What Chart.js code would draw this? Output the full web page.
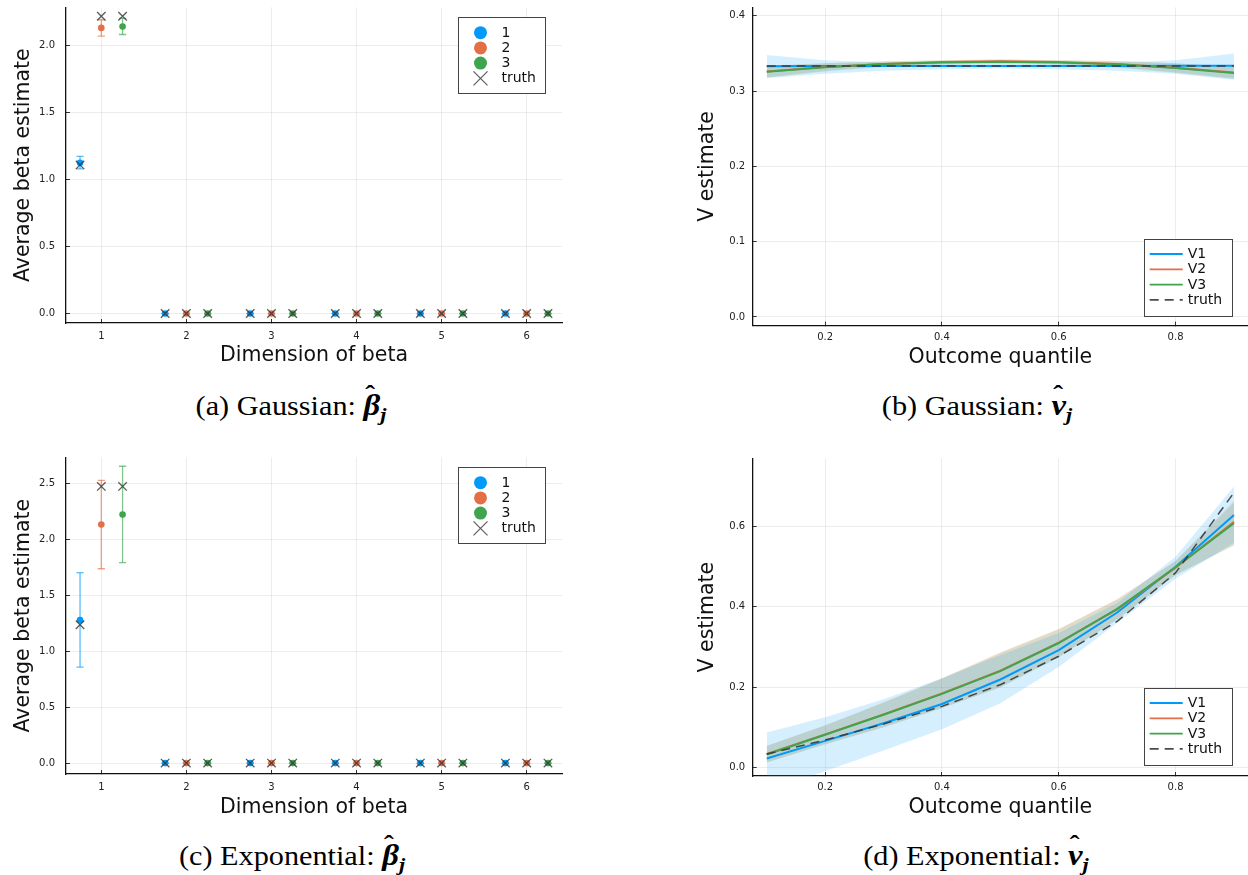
<!DOCTYPE html>
<html>
<head>
<meta charset="utf-8">
<title>Beta and V estimates</title>
<script src="https://cdn.jsdelivr.net/npm/chart.js@4.4.1/dist/chart.umd.min.js"></script>
<style>
  body { margin: 0; background: #fff; width: 1248px; height: 875px; position: relative; overflow: hidden; }
  canvas { position: absolute; }
  .cap { position: absolute; transform: translateX(-50%) scaleX(1.12); white-space: nowrap;
         font-family: "Liberation Serif", "Times New Roman", serif; font-size: 27px; line-height: 30px; color: #000; }
  .m { font-weight: bold; font-style: italic; font-size: 1.08em; }
  .hat { position: relative; display: inline-block; }
  .acc { position: absolute; left: 0.06em; top: -0.4em; font-style: normal; font-weight: bold; font-size: 0.9em; }
  .m sub { font-size: 0.68em; vertical-align: -0.3em; line-height: 0; }
</style>
</head>
<body>
<canvas id="chartA" width="580" height="372" style="left:0;top:0"></canvas>
<canvas id="chartB" width="568" height="372" style="left:680px;top:0"></canvas>
<canvas id="chartC" width="580" height="372" style="left:0;top:450px"></canvas>
<canvas id="chartD" width="568" height="372" style="left:680px;top:450px"></canvas>

<div class="cap" style="left:291px;top:390px">(a) Gaussian: <span class="m"><span class="hat">β<span class="acc">ˆ</span></span><sub>j</sub></span></div>
<div class="cap" style="left:977px;top:390px">(b) Gaussian: <span class="m"><span class="hat">v<span class="acc">ˆ</span></span><sub>j</sub></span></div>
<div class="cap" style="left:292px;top:840px">(c) Exponential: <span class="m"><span class="hat">β<span class="acc">ˆ</span></span><sub>j</sub></span></div>
<div class="cap" style="left:976px;top:840px">(d) Exponential: <span class="m"><span class="hat">v<span class="acc">ˆ</span></span><sub>j</sub></span></div>

<script>
// ---- data ----
const dims = [1, 2, 3, 4, 5, 6];
const offsets = [-0.25, 0, 0.25];
const betaTicksA = [0, 0.5, 1.0, 1.5, 2.0];
const betaTicksC = [0, 0.5, 1.0, 1.5, 2.0, 2.5];

// (a) Gaussian beta estimates, error bars and truth per series
const gaussEst1 = [1.126, 0, 0, 0, 0, 0];
const gaussEst2 = [2.133, 0, 0, 0, 0, 0];
const gaussEst3 = [2.144, 0, 0, 0, 0, 0];
const gaussLo1 = [1.080, 0, 0, 0, 0, 0];
const gaussHi1 = [1.173, 0, 0, 0, 0, 0];
const gaussLo2 = [2.072, 0, 0, 0, 0, 0];
const gaussHi2 = [2.194, 0, 0, 0, 0, 0];
const gaussLo3 = [2.084, 0, 0, 0, 0, 0];
const gaussHi3 = [2.204, 0, 0, 0, 0, 0];
const gaussTruth1 = [1.11, 0, 0, 0, 0, 0];
const gaussTruth2 = [2.22, 0, 0, 0, 0, 0];
const gaussTruth3 = [2.22, 0, 0, 0, 0, 0];

// (c) Exponential beta
const expEst1 = [1.277, 0, 0, 0, 0, 0];
const expEst2 = [2.130, 0, 0, 0, 0, 0];
const expEst3 = [2.219, 0, 0, 0, 0, 0];
const expLo1 = [0.857, 0, 0, 0, 0, 0];
const expHi1 = [1.700, 0, 0, 0, 0, 0];
const expLo2 = [1.735, 0, 0, 0, 0, 0];
const expHi2 = [2.524, 0, 0, 0, 0, 0];
const expLo3 = [1.790, 0, 0, 0, 0, 0];
const expHi3 = [2.650, 0, 0, 0, 0, 0];
const expTruth1 = [1.235, 0, 0, 0, 0, 0];
const expTruth2 = [2.47, 0, 0, 0, 0, 0];
const expTruth3 = [2.47, 0, 0, 0, 0, 0];

// (b) / (d) V estimates over outcome quantiles
const quantiles = [0.1, 0.2, 0.3, 0.4, 0.5, 0.6, 0.7, 0.8, 0.9];
const qTicks = [0.2, 0.4, 0.6, 0.8];
const vTicksB = [0, 0.1, 0.2, 0.3, 0.4];
const vTicksD = [0, 0.2, 0.4, 0.6];

const gaussV1 = [0.3330, 0.3332, 0.3333, 0.3333, 0.3333, 0.3333, 0.3334, 0.3335, 0.3337];
const gaussV1Lo = [0.317, 0.323, 0.327, 0.329, 0.330, 0.329, 0.327, 0.323, 0.315];
const gaussV1Hi = [0.348, 0.341, 0.338, 0.337, 0.337, 0.337, 0.338, 0.341, 0.350];
const gaussV2 = [0.326, 0.332, 0.336, 0.3385, 0.3395, 0.3385, 0.336, 0.331, 0.3245];
const gaussV2Lo = [0.318, 0.327, 0.333, 0.336, 0.337, 0.336, 0.332, 0.325, 0.317];
const gaussV2Hi = [0.334, 0.337, 0.339, 0.341, 0.342, 0.341, 0.340, 0.337, 0.332];
const gaussV3 = [0.3255, 0.3315, 0.336, 0.338, 0.339, 0.338, 0.3355, 0.3305, 0.324];
const gaussV3Lo = [0.318, 0.326, 0.332, 0.335, 0.336, 0.335, 0.331, 0.324, 0.316];
const gaussV3Hi = [0.333, 0.337, 0.340, 0.341, 0.342, 0.341, 0.340, 0.337, 0.332];
const gaussVTruth = [0.3333, 0.3333, 0.3333, 0.3333, 0.3333, 0.3333, 0.3333, 0.3333, 0.3333];

const expV1 = [0.022, 0.066, 0.110, 0.158, 0.219, 0.292, 0.386, 0.500, 0.629];
const expV1Lo = [-0.060, -0.010, 0.042, 0.095, 0.160, 0.250, 0.360, 0.470, 0.560];
const expV1Hi = [0.087, 0.125, 0.170, 0.222, 0.280, 0.335, 0.410, 0.525, 0.700];
const expV2 = [0.033, 0.082, 0.132, 0.184, 0.241, 0.311, 0.394, 0.498, 0.612];
const expV2Lo = [0.012, 0.058, 0.100, 0.148, 0.200, 0.275, 0.370, 0.480, 0.555];
const expV2Hi = [0.054, 0.105, 0.162, 0.222, 0.287, 0.345, 0.420, 0.515, 0.665];
const expV3 = [0.032, 0.081, 0.131, 0.183, 0.240, 0.310, 0.395, 0.499, 0.609];
const expV3Lo = [0.012, 0.057, 0.100, 0.147, 0.199, 0.274, 0.368, 0.479, 0.553];
const expV3Hi = [0.053, 0.104, 0.161, 0.221, 0.285, 0.344, 0.418, 0.514, 0.660];
const expVTruth = [0.033, 0.068, 0.108, 0.152, 0.206, 0.277, 0.364, 0.485, 0.685];

// ---- styling ----
const BLUE = '#009AFA', ORANGE = '#E36F47', GREEN = '#3EA44E', TRUTH = 'rgba(55,55,55,0.9)';
const FONT = 'DejaVu Sans';

function alpha(hex, a) {
  const n = parseInt(hex.slice(1), 16);
  return `rgba(${n >> 16},${(n >> 8) & 255},${n & 255},${a})`;
}

// legend drawn inside the plot area with a frame, like the Plots.jl default
const legendBox = {
  id: 'legendBox',
  afterDraw(chart, args, o) {
    const ctx = chart.ctx, a = chart.chartArea;
    const bx = Math.round(a.right - o.right - o.width);
    const by = Math.round(o.top != null ? a.top + o.top : a.bottom - o.bottom - o.height);
    const items = chart.data.datasets.filter(d => d.legendType);
    ctx.save();
    ctx.fillStyle = '#fff';
    ctx.fillRect(bx, by, o.width, o.height);
    ctx.strokeStyle = '#444';
    ctx.lineWidth = 1;
    ctx.strokeRect(bx + 0.5, by + 0.5, o.width, o.height);
    ctx.font = `14px "${FONT}"`;
    ctx.textBaseline = 'middle';
    items.forEach((d, i) => {
      const cy = by + o.rowTop + i * o.rowGap;
      if (d.legendType === 'dot') {
        ctx.beginPath();
        ctx.arc(bx + o.symX, cy, 6.5, 0, Math.PI * 2);
        ctx.fillStyle = d.pointBackgroundColor;
        ctx.fill();
      } else if (d.legendType === 'cross') {
        const r = 7;
        ctx.beginPath();
        ctx.moveTo(bx + o.symX - r, cy - r); ctx.lineTo(bx + o.symX + r, cy + r);
        ctx.moveTo(bx + o.symX - r, cy + r); ctx.lineTo(bx + o.symX + r, cy - r);
        ctx.strokeStyle = d.pointBorderColor;
        ctx.lineWidth = 1.2;
        ctx.stroke();
      } else {
        ctx.beginPath();
        ctx.setLineDash(d.borderDash || []);
        ctx.moveTo(bx + o.lineX0, cy); ctx.lineTo(bx + o.lineX1, cy);
        ctx.strokeStyle = d.borderColor;
        ctx.lineWidth = 1.8;
        ctx.stroke();
        ctx.setLineDash([]);
      }
      ctx.fillStyle = '#111';
      ctx.fillText(d.label, bx + o.textX, cy + 0.5);
    });
    ctx.restore();
  }
};

function axis(o) {
  return {
    type: 'linear',
    position: o.position,
    min: o.min,
    max: o.max,
    border: { display: true, color: '#111', width: 1.3 },
    grid: { color: 'rgba(0,0,0,0.07)', lineWidth: 1, tickColor: '#333', tickLength: -4, tickWidth: 1 },
    ticks: {
      font: { family: FONT, size: 10 },
      color: '#222',
      padding: o.tickPad,
      callback: o.fmt
    },
    title: {
      display: true,
      text: o.title,
      color: '#111',
      font: { family: FONT, size: 20.5 },
      padding: o.titlePad
    },
    afterBuildTicks: s => { s.ticks = o.tickVals.map(v => ({ value: v })); },
    afterFit: s => {
      // fixed box sizes, no extra room for overhanging tick labels
      if (o.position === 'bottom') s.height = o.size; else s.width = o.size;
      s.paddingTop = 0; s.paddingBottom = 0; s.paddingLeft = 0; s.paddingRight = 0;
    }
  };
}

function seriesPoints(s, values) {
  return dims.map((d, i) => ({ x: d + offsets[s], y: values[i] }));
}

function errorPoints(s, lo, hi) {
  const pts = [];
  dims.forEach((d, i) => {
    const x = d + offsets[s];
    pts.push({ x, y: lo[i] }, { x, y: hi[i] }, { x, y: null });
  });
  return pts;
}

function betaChart(id, est, lo, hi, truth, g) {
  const colors = [BLUE, ORANGE, GREEN];
  const datasets = [];
  // error bars
  colors.forEach((c, s) => {
    datasets.push({
      label: 'err' + (s + 1),
      data: errorPoints(s, lo[s], hi[s]),
      showLine: true,
      spanGaps: false,
      borderColor: alpha(c, 0.65),
      borderWidth: 1.3,
      pointStyle: 'line',
      pointRadius: 3.6,
      pointBorderColor: alpha(c, 0.65),
      pointBorderWidth: 1.3,
      order: 3
    });
  });
  // estimates
  colors.forEach((c, s) => {
    datasets.push({
      label: String(s + 1),
      legendType: 'dot',
      data: seriesPoints(s, est[s]),
      pointStyle: 'circle',
      pointRadius: 3.3,
      pointBackgroundColor: c,
      pointBorderWidth: 0,
      order: 2
    });
  });
  // truth crosses
  const truthPts = [].concat(...truth.map((t, s) => seriesPoints(s, t)));
  datasets.push({
    label: 'truth',
    legendType: 'cross',
    data: truthPts,
    pointStyle: 'crossRot',
    pointRadius: 6,
    pointBorderColor: 'rgba(50,50,50,0.8)',
    pointBorderWidth: 1.3,
    order: 1
  });

  return new Chart(document.getElementById(id), {
    type: 'scatter',
    data: { datasets },
    options: {
      responsive: false,
      animation: false,
      layout: { padding: { top: g.top, right: 18, left: 0, bottom: 0 } },
      scales: {
        x: axis({ position: 'bottom', min: 0.585, max: 6.415, tickVals: dims, fmt: v => String(v),
                  tickPad: 11, title: 'Dimension of beta', titlePad: { top: 0, bottom: g.xTitlePad }, size: g.xSize }),
        y: axis({ position: 'left', min: g.yMin, max: g.yMax, tickVals: g.yTicks, fmt: v => v.toFixed(1),
                  tickPad: 15, title: 'Average beta estimate', titlePad: { top: 11, bottom: 0 }, size: 66 })
      },
      plugins: {
        legend: { display: false },
        tooltip: { enabled: false },
        legendBox: { width: 87, height: 76, right: 17, top: 10, rowTop: 15.7, rowGap: 15.2, symX: 22.5, textX: 43.5 }
      }
    },
    plugins: [legendBox]
  });
}

function vChart(id, lines, bands, truth, g) {
  const colors = [BLUE, ORANGE, GREEN];
  const pts = vals => quantiles.map((q, i) => ({ x: q, y: vals[i] }));
  const datasets = [];
  // bands: lower then upper filled to lower
  bands.forEach(([lo, hi], s) => {
    const lowerIndex = datasets.length;
    datasets.push({ label: 'lo' + s, data: pts(lo), showLine: true, borderWidth: 0, pointRadius: 0, fill: false, order: 10 });
    datasets.push({ label: 'hi' + s, data: pts(hi), showLine: true, borderWidth: 0, pointRadius: 0,
                    fill: lowerIndex, backgroundColor: alpha(colors[s], s === 0 ? 0.16 : 0.17), order: 10 });
  });
  lines.forEach((vals, s) => {
    datasets.push({
      label: 'V' + (s + 1),
      legendType: 'line',
      data: pts(vals),
      showLine: true,
      borderColor: colors[s],
      borderWidth: 2,
      pointRadius: 0,
      fill: false,
      order: 4 - s
    });
  });
  datasets.push({
    label: 'truth',
    legendType: 'line',
    data: pts(truth),
    showLine: true,
    borderColor: TRUTH,
    borderWidth: 1.5,
    borderDash: [9, 6],
    pointRadius: 0,
    fill: false,
    order: 0
  });

  return new Chart(document.getElementById(id), {
    type: 'scatter',
    data: { datasets },
    options: {
      responsive: false,
      animation: false,
      layout: { padding: { top: g.top, right: 0, left: 0, bottom: 0 } },
      scales: {
        x: axis({ position: 'bottom', min: 0.076, max: 0.924, tickVals: qTicks, fmt: v => v.toFixed(1),
                  tickPad: 9.5, title: 'Outcome quantile', titlePad: { top: 0, bottom: 2.5 }, size: g.xSize }),
        y: axis({ position: 'left', min: g.yMin, max: g.yMax, tickVals: g.yTicks, fmt: v => v.toFixed(1),
                  tickPad: 11.5, title: 'V estimate', titlePad: { top: 15, bottom: 0 }, size: 72.7 })
      },
      plugins: {
        legend: { display: false },
        tooltip: { enabled: false },
        legendBox: { width: 88, height: 77, right: 15.7, bottom: g.legendBottom, rowTop: 15, rowGap: 15.3,
                     lineX0: 5.7, lineX1: 38.7, textX: 43.7 }
      }
    },
    plugins: [legendBox]
  });
}

betaChart('chartA',
  [gaussEst1, gaussEst2, gaussEst3],
  [gaussLo1, gaussLo2, gaussLo3],
  [gaussHi1, gaussHi2, gaussHi3],
  [gaussTruth1, gaussTruth2, gaussTruth3],
  { top: 5, xSize: 49, xTitlePad: 4, yMin: -0.0706, yMax: 2.287, yTicks: betaTicksA });

vChart('chartB',
  [gaussV1, gaussV2, gaussV3],
  [[gaussV1Lo, gaussV1Hi], [gaussV2Lo, gaussV2Hi], [gaussV3Lo, gaussV3Hi]],
  gaussVTruth,
  { top: 7.3, xSize: 46.3, yMin: -0.0116, yMax: 0.4112, yTicks: vTicksB, legendBottom: 9.7 });

betaChart('chartC',
  [expEst1, expEst2, expEst3],
  [expLo1, expLo2, expLo3],
  [expHi1, expHi2, expHi3],
  [expTruth1, expTruth2, expTruth3],
  { top: 5, xSize: 48, xTitlePad: 2, yMin: -0.0975, yMax: 2.73, yTicks: betaTicksC });

vChart('chartD',
  [expV1, expV2, expV3],
  [[expV1Lo, expV1Hi], [expV2Lo, expV2Hi], [expV3Lo, expV3Hi]],
  expVTruth,
  { top: 8.3, xSize: 46, yMin: -0.0217, yMax: 0.7706, yTicks: vTicksD, legendBottom: 10.7 });
</script>
</body>
</html>
